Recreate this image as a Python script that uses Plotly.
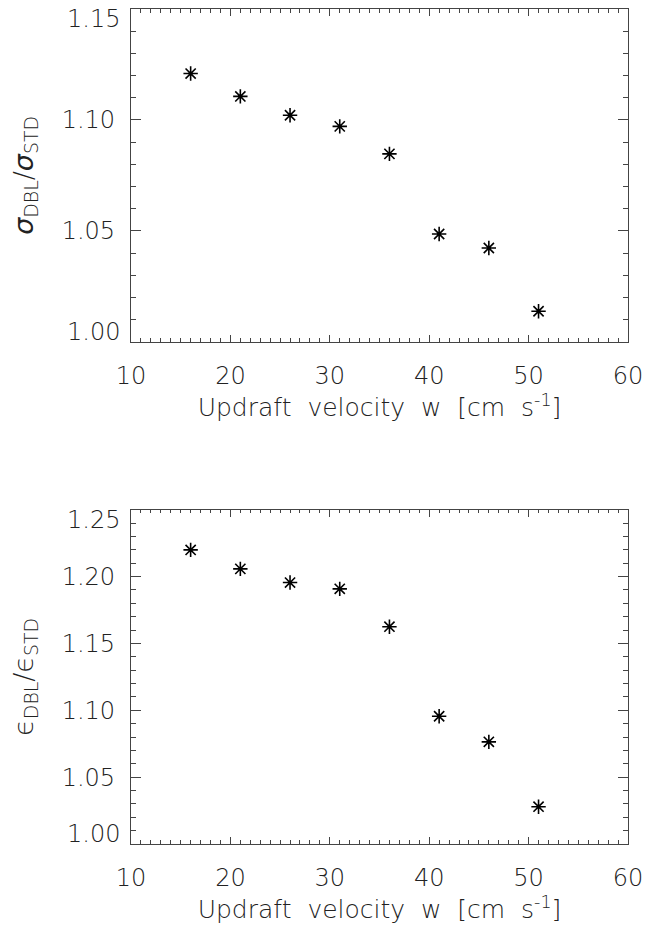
import plotly.graph_objects as go
from plotly.subplots import make_subplots

velocity = [16, 21, 26, 31, 36, 41, 46, 51]
sigma_ratio = [1.1209, 1.1106, 1.1021, 1.0971, 1.0847, 1.0486, 1.0423, 1.0138]
eps_ratio = [1.2199, 1.2057, 1.1955, 1.1908, 1.1625, 1.0955, 1.0764, 1.0279]

x_ticks = [10, 20, 30, 40, 50, 60]
y_ticks_top = [1.00, 1.05, 1.10, 1.15]
y_ticks_bot = [1.00, 1.05, 1.10, 1.15, 1.20, 1.25]

x_title = "Updraft  velocity  w  [cm  s<sup>-1</sup>]"
y_title_top = "<i>σ</i><sub>DBL</sub>/<i>σ</i><sub>STD</sub>"
y_title_bot = "ϵ<sub>DBL</sub>/ϵ<sub>STD</sub>"

FONT = "DejaVu Sans"
W = 200
TXT = "#222"
AX = "#444"
TICK_SIZE = 24

fig = make_subplots(rows=2, cols=1, vertical_spacing=0.0)

marker = dict(symbol="asterisk-open", size=12, color="black",
              line=dict(width=1.6, color="black"))

fig.add_trace(go.Scatter(x=velocity, y=sigma_ratio, mode="markers", marker=marker,
                         showlegend=False), row=1, col=1)
fig.add_trace(go.Scatter(x=velocity, y=eps_ratio, mode="markers", marker=marker,
                         showlegend=False), row=2, col=1)

xaxis_common = dict(
    range=[10, 60], tickmode="array", tickvals=x_ticks, ticktext=[str(v) for v in x_ticks],
    ticks="inside", ticklen=7, tickwidth=1, tickcolor=AX,
    minor=dict(ticks="inside", dtick=1, ticklen=3.5, tickwidth=1, tickcolor=AX),
    showline=True, linecolor=AX, linewidth=1.2, mirror="ticks",
    showgrid=False, zeroline=False, automargin=False,
    tickfont=dict(family=FONT, size=TICK_SIZE, color=TXT, weight=W),
    ticklabelstandoff=12, ticklabeloverflow="allow",
    title=dict(text=x_title, font=dict(family=FONT, size=25, color=TXT, weight=W), standoff=4),
)
yaxis_common = dict(
    ticks="inside", ticklen=10, tickwidth=1, tickcolor=AX,
    minor=dict(ticks="inside", dtick=0.01, ticklen=5, tickwidth=1, tickcolor=AX),
    showline=True, linecolor=AX, linewidth=1.2, mirror="ticks",
    showgrid=False, zeroline=False, automargin=False,
    tickfont=dict(family=FONT, size=TICK_SIZE, color=TXT, weight=W),
    ticklabelstandoff=10, ticklabeloverflow="allow",
)

fig.update_xaxes(**xaxis_common)
fig.update_yaxes(**yaxis_common)


def inner_text(ticks):
    # edge labels are drawn separately, nudged inside the frame (as in the original)
    return ["" if i in (0, len(ticks) - 1) else f"{v:.2f}" for i, v in enumerate(ticks)]


fig.update_layout(
    xaxis=dict(domain=[0, 1]),
    yaxis=dict(domain=[0.6014, 1.0], range=[y_ticks_top[0], y_ticks_top[-1]],
               tickmode="array", tickvals=y_ticks_top, ticktext=inner_text(y_ticks_top),
               title=dict(text=y_title_top, font=dict(family=FONT, size=27, color=TXT, weight=W),
                          standoff=20)),
    yaxis2=dict(domain=[0.0, 0.4004], range=[y_ticks_bot[0], y_ticks_bot[-1]],
                tickmode="array", tickvals=y_ticks_bot, ticktext=inner_text(y_ticks_bot),
                title=dict(text=y_title_bot, font=dict(family=FONT, size=27, color=TXT, weight=W),
                           standoff=20)),
    width=645, height=933,
    margin=dict(l=131, r=17, t=9, b=88.5, autoexpand=False),
    plot_bgcolor="white", paper_bgcolor="white",
    font=dict(family=FONT, color=TXT, weight=W),
)

for yref, ticks in (("y", y_ticks_top), ("y2", y_ticks_bot)):
    for val, anchor in ((ticks[0], "bottom"), (ticks[-1], "top")):
        fig.add_annotation(
            x=0, xref="paper", xanchor="right", xshift=-9,
            y=val, yref=yref, yanchor=anchor,
            yshift=(-6 if anchor == "bottom" else 6),
            text=f"{val:.2f}", showarrow=False,
            font=dict(family=FONT, size=TICK_SIZE, color=TXT, weight=W),
        )

fig.write_html("out.html", config={"displayModeBar": False},
               post_script="document.body.style.margin='0';document.body.style.overflow='hidden';")
